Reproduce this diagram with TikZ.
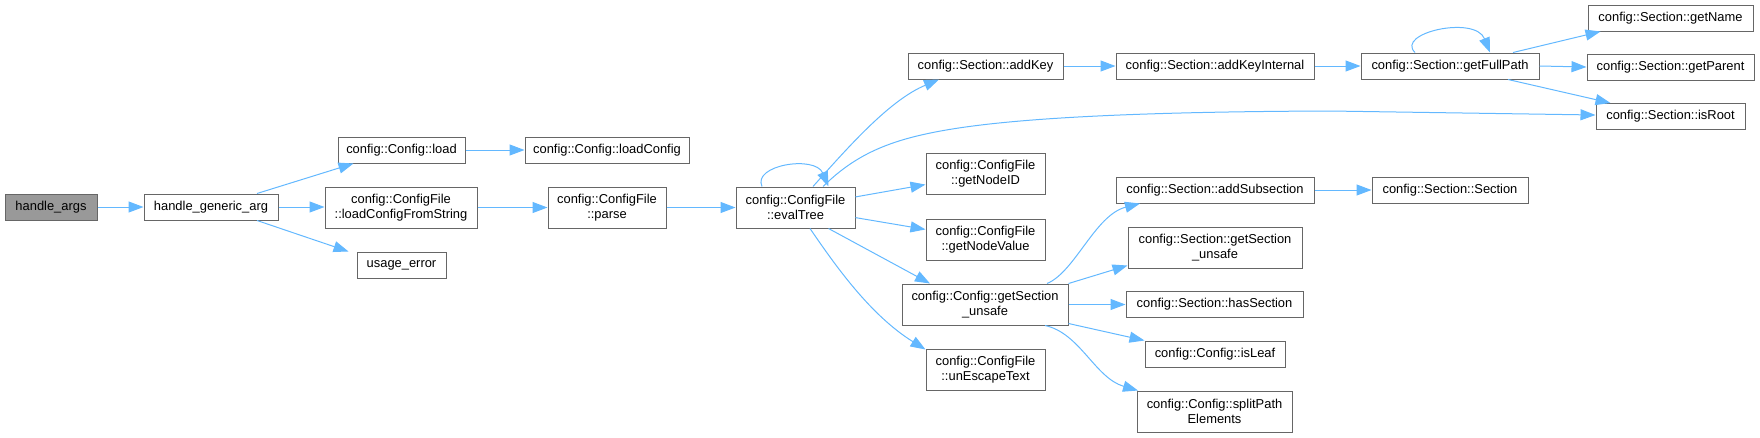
\documentclass[tikz,border=0pt]{standalone}
\usepackage{fontspec}
\setmainfont{Liberation Sans}
\usetikzlibrary{arrows.meta}
\definecolor{edgeblue}{HTML}{63B8FF}
\definecolor{boxgray}{HTML}{666666}
\definecolor{fillgray}{HTML}{999999}
\tikzset{
  box/.style={draw=boxgray, line width=1pt, fill=white, inner sep=0pt, align=center,
    font=\fontsize{12.9}{15}\selectfont, text=black},
  onebox/.style={box, minimum height=26pt},
  twobox/.style={box, minimum height=41pt},
  edge/.style={draw=edgeblue, line width=1pt, -{Triangle[length=15pt,width=11pt]}},
}
\begin{document}
\begin{tikzpicture}[x=1pt,y=-1pt]
\useasboundingbox (0,0) rectangle (1760,437);
% nodes
\node[onebox, fill=fillgray, minimum width=92pt] (args) at (51,207) {handle\_args};
\node[onebox, minimum width=134pt] (hga) at (211,207) {handle\_generic\_arg};
\node[onebox, minimum width=127pt] (load) at (401.5,150) {config::Config::load};
\node[twobox, minimum width=152pt] (lcfs) at (401,207.5) {config::ConfigFile\\::loadConfigFromString};
\node[onebox, minimum width=89pt] (usage) at (401.5,265) {usage\_error};
\node[onebox, minimum width=164pt] (lconf) at (607,150) {config::Config::loadConfig};
\node[twobox, minimum width=118pt] (parse) at (607,207.5) {config::ConfigFile\\::parse};
\node[twobox, minimum width=119pt] (eval) at (795.5,207.5) {config::ConfigFile\\::evalTree};
\node[onebox, minimum width=155pt] (addkey) at (985.5,66) {config::Section::addKey};
\node[twobox, minimum width=119pt] (nodeid) at (985.5,174) {config::ConfigFile\\::getNodeID};
\node[twobox, minimum width=119pt] (nodeval) at (985.5,239.5) {config::ConfigFile\\::getNodeValue};
\node[twobox, minimum width=166pt] (cgsu) at (985,304.5) {config::Config::getSection\\\_unsafe};
\node[twobox, minimum width=119pt] (unesc) at (985.5,369.5) {config::ConfigFile\\::unEscapeText};
\node[onebox, minimum width=198pt] (aki) at (1215,66) {config::Section::addKeyInternal};
\node[onebox, minimum width=198pt] (addsub) at (1215,190) {config::Section::addSubsection};
\node[twobox, minimum width=174pt] (sgsu) at (1215,247.5) {config::Section::getSection\\\_unsafe};
\node[onebox, minimum width=177pt] (hassec) at (1214.5,304.5) {config::Section::hasSection};
\node[onebox, minimum width=140pt] (isleaf) at (1215,354) {config::Config::isLeaf};
\node[twobox, minimum width=155pt] (split) at (1214.5,411.5) {config::Config::splitPath\\Elements};
\node[onebox, minimum width=178pt] (gfp) at (1450,66) {config::Section::getFullPath};
\node[onebox, minimum width=156pt] (secsec) at (1450,190) {config::Section::Section};
\node[onebox, minimum width=165pt] (getname) at (1670.5,18) {config::Section::getName};
\node[onebox, minimum width=167pt] (getparent) at (1670.5,67) {config::Section::getParent};
\node[onebox, minimum width=149pt] (isroot) at (1670.5,116.5) {config::Section::isRoot};
% edges
\draw[edge] (args.east) -- (hga.west);
\draw[edge] ([xshift=46pt]hga.north) -- ([xshift=-48pt]load.south);
\draw[edge] (hga.east) -- (lcfs.west |- hga.east);
\draw[edge] ([xshift=46pt]hga.south) -- ([xshift=-53pt]usage.north);
\draw[edge] (load.east) -- (lconf.west);
\draw[edge] (lcfs.east) -- (parse.west);
\draw[edge] (parse.east) -- (eval.west);
\draw[edge] ([xshift=-33.5pt]eval.north) .. controls (752,165) and (815,155) .. ([xshift=33pt]eval.north);
\draw[edge] ([xshift=17.5pt]eval.north) .. controls (850,145) and (890,100) .. ([xshift=-46.5pt]addkey.south);
\draw[edge] ([xshift=27.5pt]eval.north) .. controls (845,165) and (870,148) .. (913,137)
   .. controls (960,125) and (1050,112) .. (1330,111) -- ([yshift=1.5pt]isroot.west);
\draw[edge] (eval) -- (nodeid);
\draw[edge] (eval) -- (nodeval);
\draw[edge] ([xshift=33pt]eval.south) -- ([xshift=-55pt]cgsu.north);
\draw[edge] ([xshift=14.5pt]eval.south) .. controls (835,265) and (870,315) .. ([yshift=-1pt]unesc.north west);
\draw[edge] (addkey.east) -- (aki.west);
\draw[edge] (aki.east) -- (gfp.west);
\draw[edge] ([xshift=-35pt]gfp.north) .. controls (1395,33) and (1475,15) .. ([xshift=40pt]gfp.north);
\draw[edge] ([xshift=63pt]gfp.north) -- ([xshift=-70pt]getname.south);
\draw[edge] (gfp.east) -- (getparent.west);
\draw[edge] ([xshift=58pt]gfp.south) -- ([xshift=-60pt]isroot.north);
\draw[edge] ([xshift=62pt]cgsu.north) .. controls (1075,272) and (1095,215) .. ([xshift=-75pt]addsub.south);
\draw[edge] (cgsu.north east) -- ([yshift=3pt]sgsu.south west);
\draw[edge] (cgsu.east) -- (hassec.west);
\draw[edge] ([yshift=2pt]cgsu.south east) -- (isleaf.north west);
\draw[edge] ([xshift=60pt]cgsu.south) .. controls (1080,333) and (1095,378) .. ([xshift=-76.5pt]split.north);
\draw[edge] (addsub.east) -- (secsec.west);
\end{tikzpicture}
\end{document}
